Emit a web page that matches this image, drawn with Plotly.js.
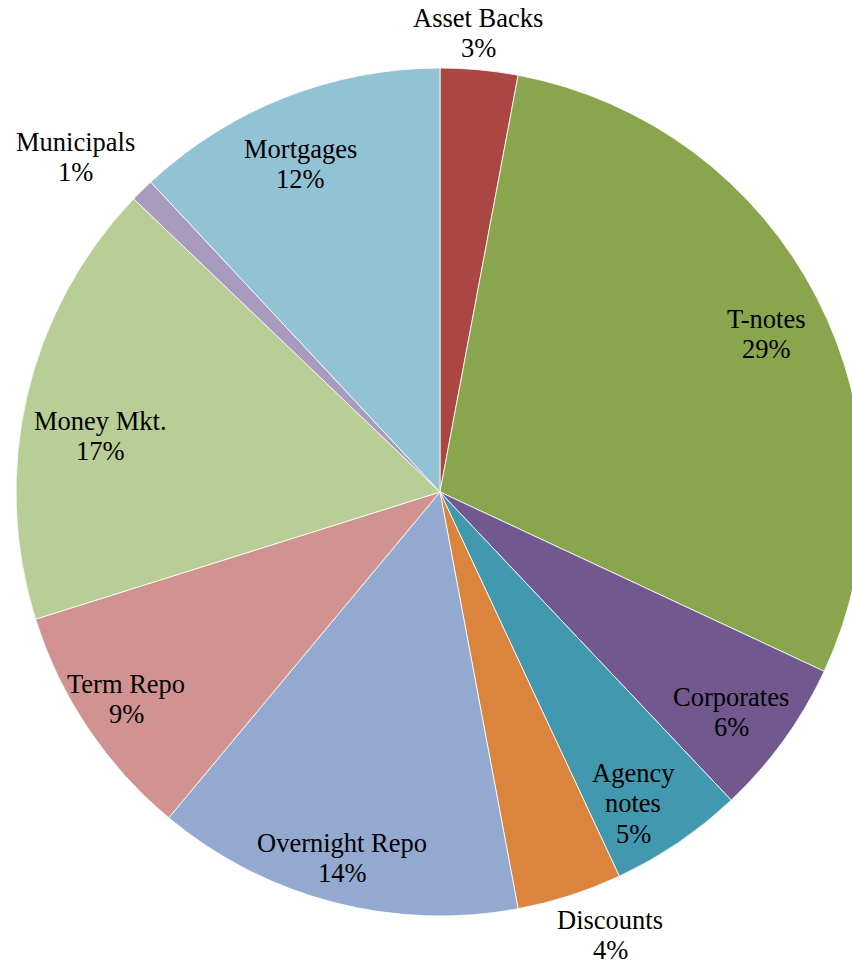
<!DOCTYPE html>
<html>
<head>
<meta charset="utf-8">
<script src="https://cdn.plot.ly/plotly-3.0.1.min.js"></script>
<style>
html, body { margin: 0; padding: 0; overflow: hidden; background: #ffffff; }
#chart { width: 880px; height: 966px; }
#chart svg text { font-family: 'Liberation Serif', 'Times New Roman', Tinos, serif !important; }
</style>
</head>
<body>
<div id="chart"></div>
<script>
// Data
var categories = ["Asset Backs", "T-notes", "Corporates", "Agency notes", "Discounts",
                  "Overnight Repo", "Term Repo", "Money Mkt.", "Municipals", "Mortgages"];
var shares = [2.95, 29.0, 6.0, 5.1, 4.0, 14.0, 9.1, 17.0, 0.9, 11.95];

// Styles
var colors = ["#AA4643", "#89A54E", "#71588F", "#4198AF", "#DB843D",
              "#93A9CF", "#D19392", "#B9CD96", "#A99BBD", "#92C3D5"];
// label text lines and centre positions (pixels) of each label block
var labelLines = [["Asset Backs"], ["T-notes"], ["Corporates"], ["Agency", "notes"], ["Discounts"],
                  ["Overnight Repo"], ["Term Repo"], ["Money Mkt."], ["Municipals"], ["Mortgages"]];
var labelPos = [[478, 33], [766, 334], [731, 712], [633, 803], [610, 935],
                [342, 858], [126, 699], [100, 436], [75, 157], [300, 164]];
var fams = ["Liberation Serif", "Times New Roman", "Liberation Serif", "Times New Roman", "Liberation Serif",
            "Times New Roman", "Liberation Serif", "Times New Roman", "Liberation Serif", "Times New Roman"];

var W = 880, H = 966, FS = 26.5, LS = 30.5;
var total = shares.reduce(function (a, b) { return a + b; }, 0);

var annotations = [];
categories.forEach(function (c, i) {
  var lines = labelLines[i].concat([Math.round(shares[i] / total * 100) + "%"]);
  var n = lines.length;
  lines.forEach(function (t, k) {
    var py = labelPos[i][1] + (k - (n - 1) / 2) * LS;
    annotations.push({
      text: t, showarrow: false, xref: "paper", yref: "paper",
      x: labelPos[i][0] / W, y: 1 - py / H, xanchor: "center", yanchor: "middle",
      font: { family: fams[i], size: FS, color: "#000000" }
    });
  });
});

var trace = {
  type: "pie", labels: categories, values: shares, sort: false,
  direction: "clockwise", rotation: 0, textinfo: "none",
  marker: { colors: colors, line: { color: "#ffffff", width: 0.8 } },
  domain: { x: [16 / W, 864 / W], y: [1 - 916 / H, 1 - 68 / H] },
  showlegend: false
};

var layout = {
  width: W, height: H, margin: { l: 0, r: 0, t: 0, b: 0, pad: 0 },
  paper_bgcolor: "#ffffff", showlegend: false, annotations: annotations
};

Plotly.newPlot("chart", [trace], layout, { displayModeBar: false, staticPlot: true });
</script>
</body>
</html>
